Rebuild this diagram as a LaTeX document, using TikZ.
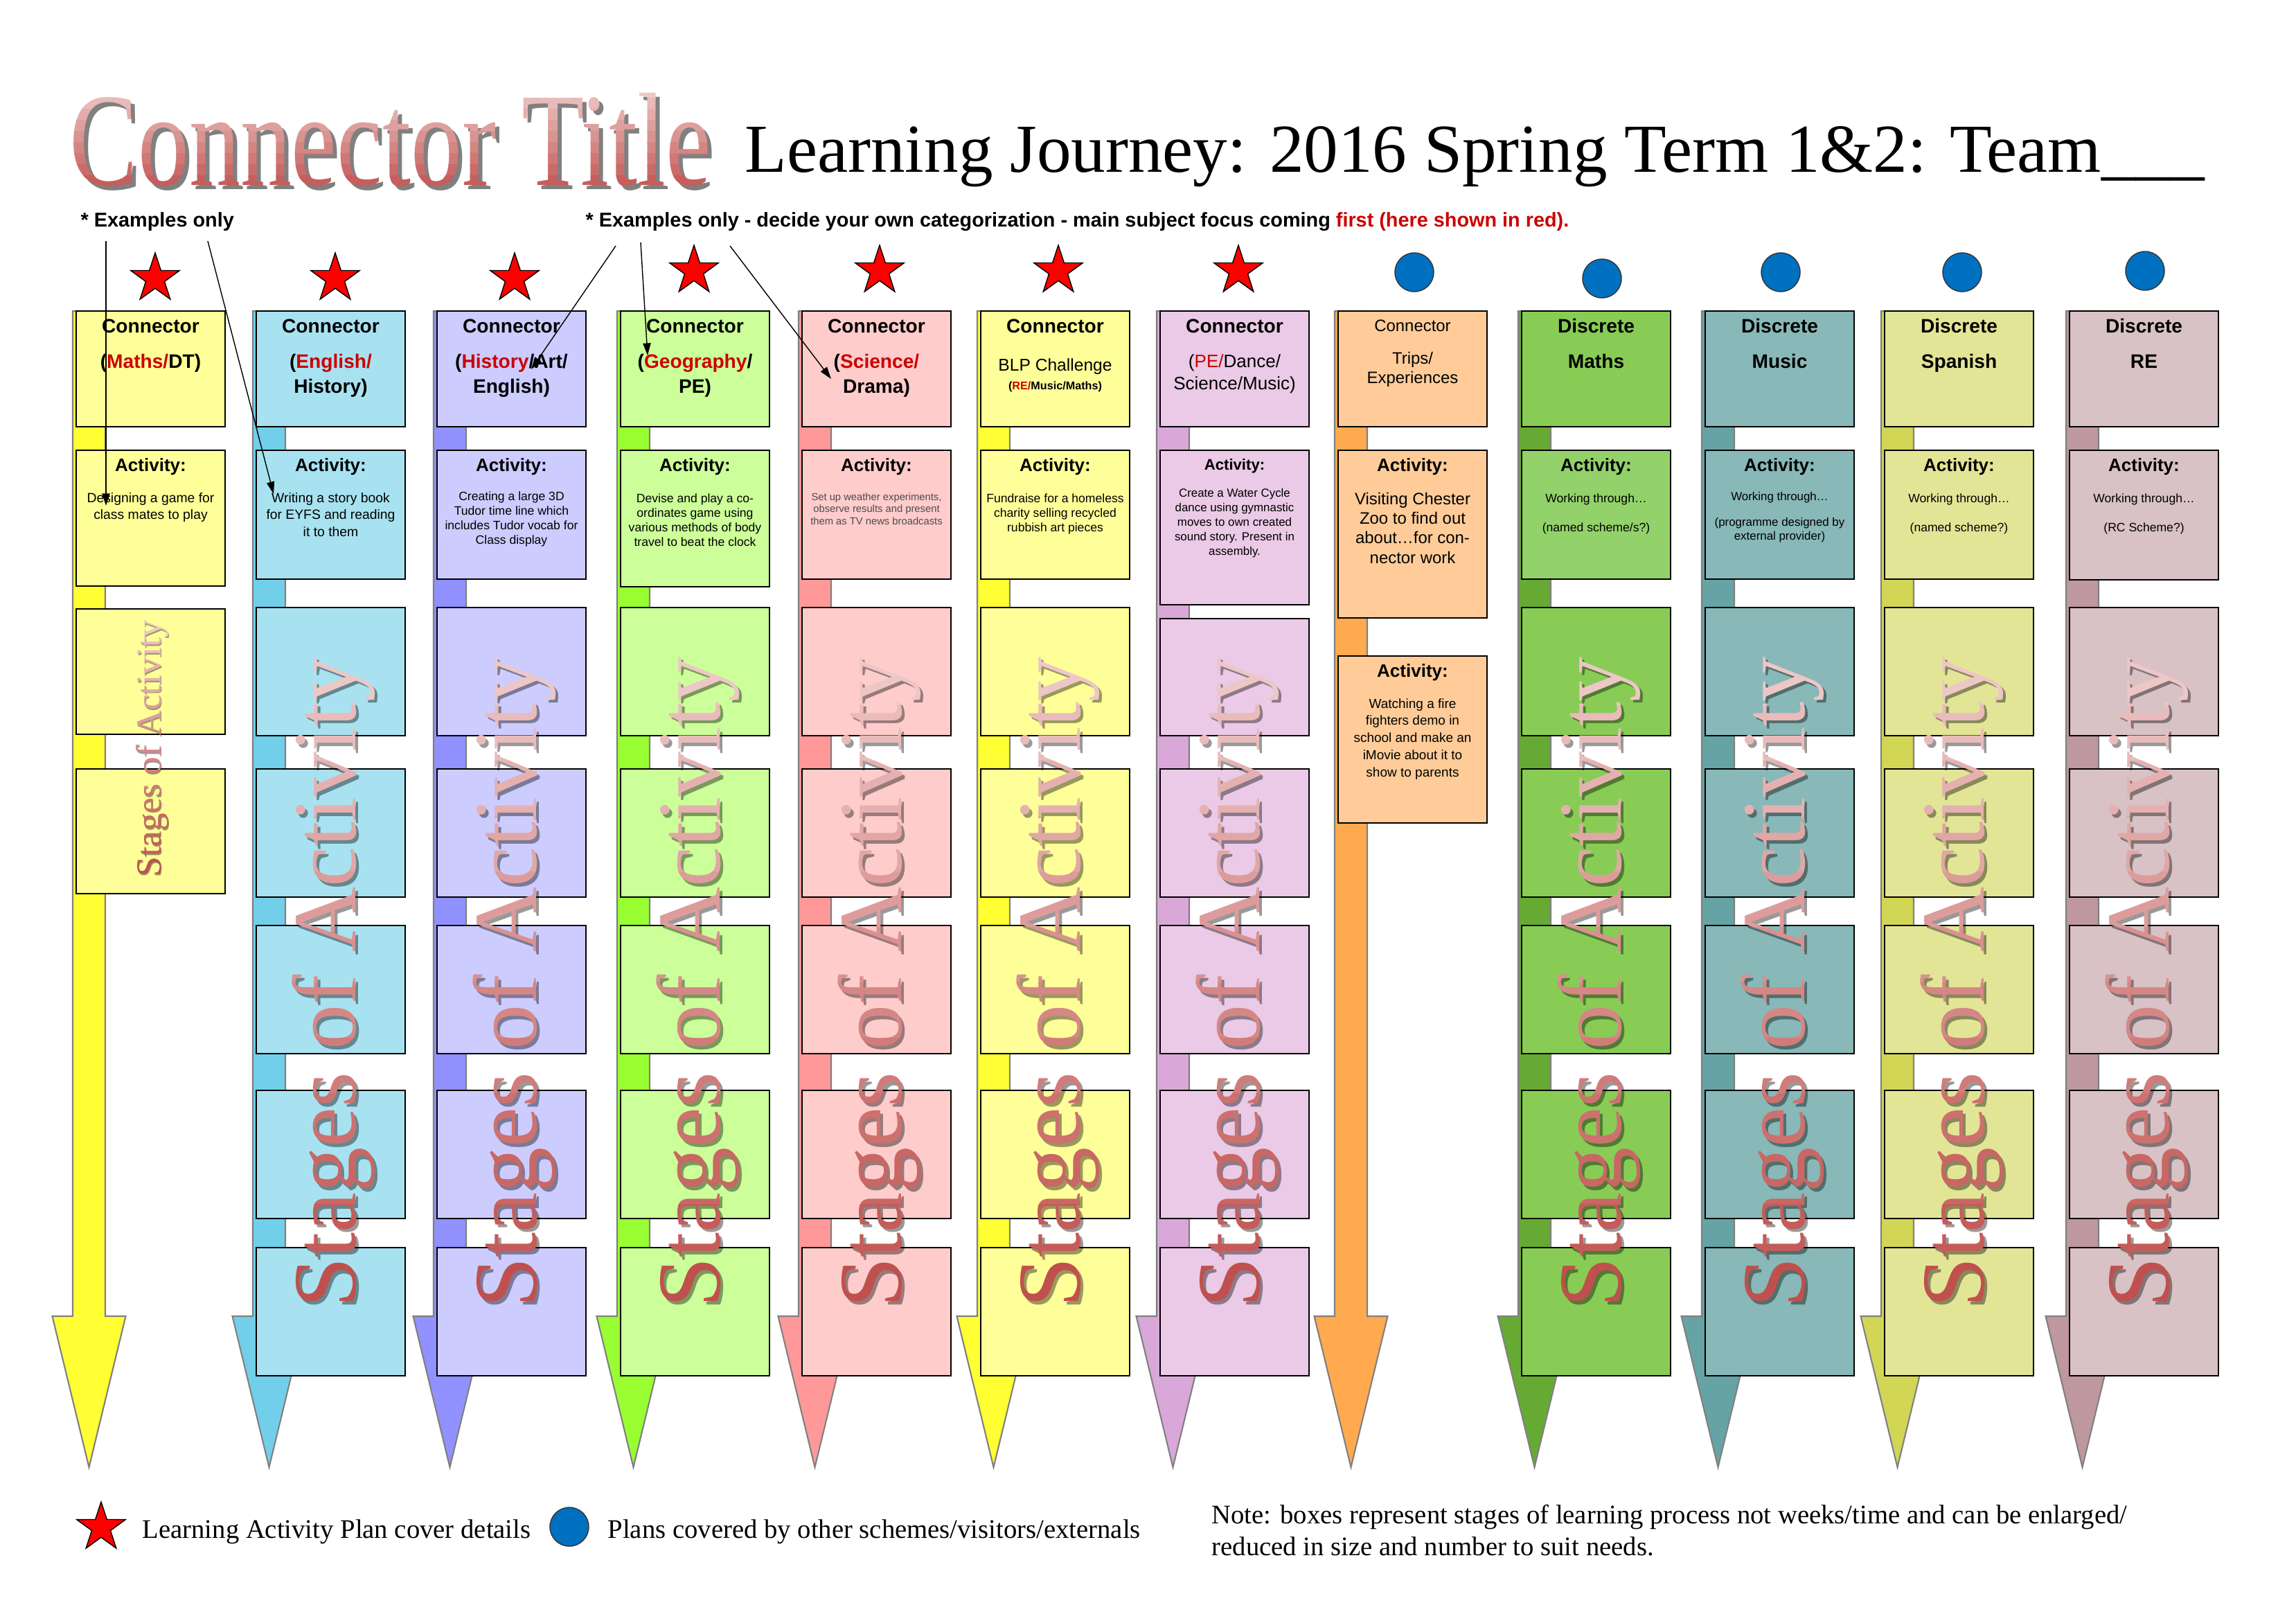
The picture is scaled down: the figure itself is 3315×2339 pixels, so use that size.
\documentclass[tikz,border=0pt]{standalone}
\usepackage{fontspec}
\setmainfont{Liberation Serif}
\newfontfamily\comic{Liberation Sans}
\usetikzlibrary{shapes.geometric,arrows.meta}

\definecolor{yelbox}{HTML}{FFFF99}
\definecolor{yelshaft}{HTML}{FFFF33}
\definecolor{bluebox}{HTML}{A8E2F0}
\definecolor{blueshaft}{HTML}{72CFEA}
\definecolor{lavbox}{HTML}{CCCCFF}
\definecolor{lavshaft}{HTML}{9191FF}
\definecolor{grnbox}{HTML}{CCFF99}
\definecolor{grnshaft}{HTML}{99FF33}
\definecolor{pinkbox}{HTML}{FFCCCC}
\definecolor{pinkshaft}{HTML}{FF9999}
\definecolor{orchbox}{HTML}{EACAE6}
\definecolor{orchshaft}{HTML}{D9A8D8}
\definecolor{orgbox}{HTML}{FFCC99}
\definecolor{orgshaft}{HTML}{FFAA4F}
\definecolor{dgrnbox}{HTML}{88CC55}
\definecolor{dgrnact}{HTML}{93D26A}
\definecolor{dgrnshaft}{HTML}{66AA33}
\definecolor{tealbox}{HTML}{88B8B8}
\definecolor{tealshaft}{HTML}{66A3A5}
\definecolor{olivebox}{HTML}{E3E596}
\definecolor{oliveshaft}{HTML}{D2D655}
\definecolor{mauvebox}{HTML}{D8C2C6}
\definecolor{mauveshaft}{HTML}{BE989E}
\definecolor{wdark}{HTML}{C0504D}
\definecolor{wlight}{HTML}{EDC7C6}
\definecolor{accred}{HTML}{CC0000}
\definecolor{dotblue}{HTML}{0070C0}

\newcommand{\boxlines}[1]{\begin{tabular}[t]{@{}c@{}}#1\end{tabular}}
\newcommand{\leftlines}[1]{\begin{tabular}[t]{@{}l@{}}#1\end{tabular}}

\tikzset{
  shaftline/.style={draw=black!50, line width=0.6pt},
  boxline/.style={draw=black, line width=0.45pt},
  hdr/.style={anchor=base, inner sep=0pt, font=\comic\bfseries\fontsize{8}{10.2}\selectfont},
  hdrlight/.style={anchor=base, inner sep=0pt, font=\comic\fontsize{7}{9}\selectfont},
  acttitle/.style={anchor=base, inner sep=0pt, font=\comic\bfseries\fontsize{7.4}{9}\selectfont},
  acttext/.style={anchor=base, inner sep=0pt, font=\comic\fontsize{5.5}{7.1}\selectfont},
  redstar/.style={star, star points=5, star point ratio=2.6, minimum size=0.74cm, inner sep=0pt, fill=red, draw=black, line width=0.4pt},
  bluedot/.style={circle, minimum size=0.56cm, inner sep=0pt, fill=dotblue, draw=black!80, line width=0.4pt},
  notearrow/.style={-{Triangle[length=5pt,width=3.2pt]}, line width=0.4pt},
  notetext/.style={anchor=base west, inner sep=0pt, font=\comic\bfseries\fontsize{8.2}{9}\selectfont},
  legend/.style={anchor=base west, inner sep=0pt, font=\fontsize{11}{13.1}\selectfont},
}

\newcommand{\stagetext}[5]{%
  \node[rotate=90, anchor=base, inner sep=0pt, text=black, opacity=0.4,
        font=\fontsize{#4}{#4}\selectfont] (#1-s) at (#2+#4/8,#3+#4/8) {Stages of Activity};
  \foreach \k in {0,...,11}{
    \pgfmathtruncatemacro{\p}{\k*100/11}
    \begin{scope}
      \clip (#2-160,#3-#5+\k*#5/6) rectangle (#2+60,#3-#5+\k*#5/6+#5/6+1);
      \node[rotate=90, anchor=base, inner sep=0pt, text=wdark!\p!wlight,
            font=\fontsize{#4}{#4}\selectfont] (#1-\k) at (#2,#3) {Stages of Activity};
    \end{scope}
  }
}

\begin{document}
\begin{tikzpicture}[x=0.01cm,y=-0.01cm]
\useasboundingbox (0,0) rectangle (3315,2339);
\fill[white] (0,0) rectangle (3315,2339);

\node[anchor=base west, inner sep=0pt, xscale=0.77, text=black!50,
      font=\fontsize{54.6}{56}\selectfont] (ttl-s) at (106,273) {Connector Title};
\foreach \k in {0,...,9}
{
    \pgfmathtruncatemacro{\p}{\k*100/9}
    \begin{scope}
    \clip (80,125+\k*16) rectangle (1060,142+\k*16);
    \node[anchor=base west, inner sep=0pt, xscale=0.77, text=wdark!\p!wlight,
          font=\fontsize{54.6}{56}\selectfont] (ttl-\k) at (100,267) {Connector Title};
    \end{scope}
}
\node[anchor=base west, inner sep=0pt, font=\fontsize{28.2}{30}\selectfont] (subtitle)
    at (1075,248) {Learning Journey: 2016 Spring Term 1\&2: Team\_\_\_};

\node[notetext] (note1) at (116,327) {* Examples only};
\node[notetext] (note2) at (845,327) {* Examples only - decide your own categorization - main subject focus coming {\color{accred}first (here shown in red).}};

\foreach \l/\bc/\sc in {110/yelbox/yelshaft, 370/bluebox/blueshaft, 631/lavbox/lavshaft,
    896/grnbox/grnshaft, 1158/pinkbox/pinkshaft, 1416/yelbox/yelshaft, 1675/orchbox/orchshaft,
    1932/orgbox/orgshaft, 2197/dgrnbox/dgrnshaft, 2462/tealbox/tealshaft,
    2721/olivebox/oliveshaft, 2988/mauvebox/mauveshaft}
{
    \draw[shaftline, fill=\sc] (\l-5,449) -- (\l+42,449) -- (\l+42,1900) -- (\l+71.5,1900)
        -- (\l+18.5,2118) -- (\l-34.5,1900) -- (\l-5,1900) -- cycle;
    \draw[boxline, fill=\bc] (\l,449) rectangle (\l+215,616);
}

\foreach \l/\bc/\yb in {110/yelbox/846, 370/bluebox/836, 631/lavbox/836, 896/grnbox/847,
    1158/pinkbox/836, 1416/yelbox/836, 1675/orchbox/873, 1932/orgbox/892, 2197/dgrnact/836,
    2462/tealbox/836, 2721/olivebox/836, 2988/mauvebox/837}
{
    \draw[boxline, fill=\bc] (\l,650) rectangle (\l+215,\yb);
}
\draw[boxline, fill=orgbox] (1932,947) rectangle (2147,1188);

\foreach \l/\bc/\yf in {370/bluebox/877, 631/lavbox/877, 896/grnbox/877, 1158/pinkbox/877,
    1416/yelbox/877, 1675/orchbox/893, 2197/dgrnbox/877, 2462/tealbox/877,
    2721/olivebox/877, 2988/mauvebox/877}
{
    \foreach \ya/\yb in {\yf/1062, 1110/1295, 1336/1521, 1574/1759, 1801/1986}
        \draw[boxline, fill=\bc] (\l,\ya) rectangle (\l+215,\yb);
}
\foreach \ya/\yb in {879/1060, 1110/1290}
    \draw[boxline, fill=yelbox] (110,\ya) rectangle (325,\yb);

\node[hdr] (h1) at (217.5,480) {\boxlines{Connector\\[4.5pt]({\color{accred}Maths/}DT)}};
\node[hdr] (h2) at (477.5,480) {\boxlines{Connector\\[4.5pt]({\color{accred}English/}\\History)}};
\node[hdr] (h3) at (738.5,480) {\boxlines{Connector\\[4.5pt]({\color{accred}History}/Art/\\English)}};
\node[hdr] (h4) at (1003.5,480) {\boxlines{Connector\\[4.5pt]({\color{accred}Geography}/\\PE)}};
\node[hdr] (h5) at (1265.5,480) {\boxlines{Connector\\[4.5pt]({\color{accred}Science/}\\Drama)}};
\node[hdr] (h6) at (1523.5,480) {Connector};
\node[hdrlight] (h6b) at (1523.5,535) {BLP Challenge};
\node[hdr, font=\comic\bfseries\fontsize{4.6}{5}\selectfont] (h6c) at (1523.5,562) {({\color{accred}RE/}Music/Maths)};
\node[hdr] (h7) at (1782.5,480) {Connector};
\node[hdrlight, font=\comic\fontsize{7.4}{9.1}\selectfont] (h7b) at (1782.5,530) {\boxlines{({\color{accred}PE/}Dance/\\Science/Music)}};
\node[hdrlight, font=\comic\fontsize{6.8}{8}\selectfont] (h8) at (2039.5,478) {Connector};
\node[hdrlight, font=\comic\fontsize{6.8}{8}\selectfont] (h8b) at (2039.5,525) {\boxlines{Trips/\\Experiences}};
\node[hdr] (h9) at (2304.5,480) {\boxlines{Discrete\\[4.5pt]Maths}};
\node[hdr] (h10) at (2569.5,480) {\boxlines{Discrete\\[4.5pt]Music}};
\node[hdr] (h11) at (2828.5,480) {\boxlines{Discrete\\[4.5pt]Spanish}};
\node[hdr] (h12) at (3095.5,480) {\boxlines{Discrete\\[4.5pt]RE}};

\foreach \n/\x in {1/217.5, 2/477.5, 3/738.5, 4/1003.5, 5/1265.5, 6/1523.5, 8/2039.5,
    9/2304.5, 10/2569.5, 11/2828.5, 12/3095.5}
{
    \node[acttitle] (at\n) at (\x,680) {Activity:};
}
\node[acttitle, font=\comic\bfseries\fontsize{6.3}{8}\selectfont] (at7) at (1782.5,678) {Activity:};
\node[acttitle] (at8b) at (2039.5,977) {Activity:};

\node[acttext] (a1) at (217.5,725) {\boxlines{Designing a game for\\class mates to play}};
\node[acttext] (a2) at (477.5,725) {\boxlines{Writing a story book\\for EYFS and reading\\it to them}};
\node[acttext, font=\comic\fontsize{5}{6}\selectfont] (a3) at (738.5,722) {\boxlines{Creating a large 3D\\Tudor time line which\\includes Tudor vocab for\\Class display}};
\node[acttext, font=\comic\fontsize{5}{6}\selectfont] (a4) at (1003.5,725) {\boxlines{Devise and play a co-\\ordinates game using\\various methods of body\\travel to beat the clock}};
\node[acttext, text=black!70, font=\comic\fontsize{4.2}{5.1}\selectfont] (a5) at (1265.5,722) {\boxlines{Set up weather experiments,\\observe results and present\\them as TV news broadcasts}};
\node[acttext, font=\comic\fontsize{5}{6}\selectfont] (a6) at (1523.5,725) {\boxlines{Fundraise for a homeless\\charity selling recycled\\rubbish art pieces}};
\node[acttext, font=\comic\fontsize{4.8}{6}\selectfont] (a7) at (1782.5,717) {\boxlines{Create a Water Cycle\\dance using gymnastic\\moves to own created\\sound story. Present in\\assembly.}};
\node[acttext, font=\comic\fontsize{6.8}{8.1}\selectfont] (a8) at (2039.5,728) {\boxlines{Visiting Chester\\Zoo to find out\\about\ldots for con-\\nector work}};
\node[acttext, font=\comic\fontsize{5.4}{7.1}\selectfont] (a8b) at (2039.5,1022) {\boxlines{Watching a fire\\fighters demo in\\school and make an\\iMovie about it to\\show to parents}};
\node[acttext, font=\comic\fontsize{5}{7}\selectfont] (a9) at (2304.5,725) {\boxlines{Working through\ldots\\[5pt](named scheme/s?)}};
\node[acttext, font=\comic\fontsize{4.8}{5.7}\selectfont] (a10) at (2569.5,722) {\boxlines{Working through\ldots\\[5pt](programme designed by\\external provider)}};
\node[acttext, font=\comic\fontsize{5}{7}\selectfont] (a11) at (2828.5,725) {\boxlines{Working through\ldots\\[5pt](named scheme?)}};
\node[acttext, font=\comic\fontsize{5}{7}\selectfont] (a12) at (3095.5,725) {\boxlines{Working through\ldots\\[5pt](RC Scheme?)}};

\stagetext{st1}{232}{1080}{14.6}{190}
\foreach \n/\l in {2/370, 3/631, 4/896, 5/1158, 6/1416, 7/1675, 9/2197, 10/2462, 11/2721, 12/2988}
{
    \stagetext{st\n}{\l+143}{1418}{37}{480}
}

\foreach \n/\x/\y in {1/224/402, 2/484/402, 3/743/402, 4/1002/391, 5/1270/391, 6/1528/391, 7/1788/391}
{
    \node[redstar] (star\n) at (\x,\y) {};
}
\foreach \n/\x/\y in {8/2042/393, 9/2313/402, 10/2571/393, 11/2833/393, 12/3097/391}
{
    \node[bluedot] (dot\n) at (\x,\y) {};
}

\coordinate (n1a) at (153,348);
\coordinate (n1b) at (153,730);
\coordinate (n2a) at (300,348);
\coordinate (n2b) at (395,713);
\coordinate (n3a) at (889,355);
\coordinate (n3b) at (767,533);
\coordinate (n4a) at (925,350);
\coordinate (n4b) at (935,513);
\coordinate (n5a) at (1054,355);
\coordinate (n5b) at (1200,547);
\draw[notearrow] (n1a) -- (n1b);
\draw[notearrow] (n2a) -- (n2b);
\draw[notearrow] (n3a) -- (n3b);
\draw[notearrow] (n4a) -- (n4b);
\draw[notearrow] (n5a) -- (n5b);

\node[redstar] (keystar) at (146,2205) {};
\node[legend] (keystartext) at (205,2220) {Learning Activity Plan cover details};
\node[bluedot] (keydot) at (822,2204) {};
\node[legend] (keydottext) at (877,2220) {Plans covered by other schemes/visitors/externals};
\node[legend] (keynote) at (1749,2199) {\leftlines{Note: boxes represent stages of learning process not weeks/time and can be enlarged/\\reduced in size and number to suit needs.}};
\end{tikzpicture}
\end{document}
